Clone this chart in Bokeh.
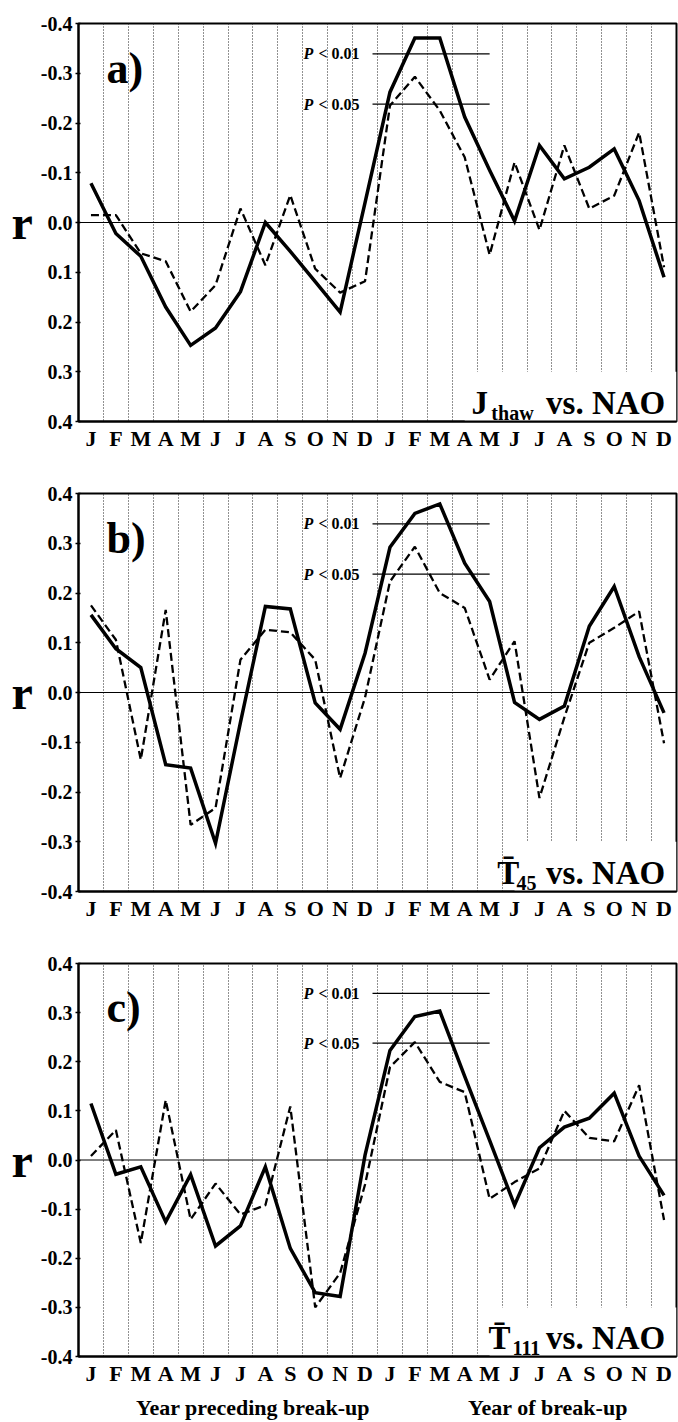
from bokeh.plotting import figure
from bokeh.models import Range1d, FixedTicker, PrintfTickFormatter, Span, Label, BoxAnnotation, LinearAxis
from bokeh.layouts import column
from bokeh.embed import file_html
from bokeh.resources import INLINE

months = ["J", "F", "M", "A", "M", "J", "J", "A", "S", "O", "N", "D",
          "J", "F", "M", "A", "M", "J", "J", "A", "S", "O", "N", "D"]
y_ticks = [-0.4, -0.3, -0.2, -0.1, 0.0, 0.1, 0.2, 0.3, 0.4]
sig_levels = [0.339, 0.238]
sig_texts = ["< 0.01", "< 0.05"]
period_names = ["Year preceding break-up", "Year of break-up"]
period_centers = [6.5, 18.34]

# panel a: J_thaw vs. NAO (y axis inverted)
a_solid = [-0.079, 0.022, 0.068, 0.170, 0.247, 0.212, 0.139, 0.000, 0.058, 0.119, 0.180, -0.040,
           -0.262, -0.371, -0.371, -0.212, -0.105, -0.003, -0.155, -0.088, -0.111, -0.148, -0.044, 0.110]
a_dashed = [-0.015, -0.015, 0.062, 0.078, 0.179, 0.126, -0.028, 0.086, -0.055, 0.093, 0.141, 0.118,
            -0.235, -0.293, -0.225, -0.131, 0.065, -0.121, 0.015, -0.155, -0.028, -0.054, -0.181, 0.090]
# panel b: T45 vs. NAO
b_solid = [0.156, 0.088, 0.050, -0.145, -0.152, -0.303, -0.060, 0.173, 0.168, -0.021, -0.074, 0.079,
           0.292, 0.360, 0.379, 0.260, 0.183, -0.020, -0.054, -0.027, 0.133, 0.213, 0.072, -0.041]
b_dashed = [0.175, 0.106, -0.135, 0.166, -0.266, -0.232, 0.066, 0.126, 0.121, 0.066, -0.172, -0.010,
            0.223, 0.293, 0.200, 0.170, 0.026, 0.103, -0.212, -0.050, 0.100, 0.130, 0.163, -0.102]
# panel c: T111 vs. NAO
c_solid = [0.115, -0.029, -0.014, -0.126, -0.030, -0.175, -0.134, -0.014, -0.180, -0.270, -0.278, 0.010,
           0.223, 0.292, 0.303, 0.170, 0.040, -0.092, 0.025, 0.067, 0.085, 0.136, 0.008, -0.072]
c_dashed = [0.008, 0.061, -0.169, 0.122, -0.121, -0.048, -0.111, -0.092, 0.109, -0.300, -0.230, -0.050,
            0.189, 0.240, 0.159, 0.138, -0.079, -0.045, -0.017, 0.100, 0.045, 0.038, 0.152, -0.122]

FONT = "Liberation Serif"
x = list(range(len(months)))


def make_panel(tag, solid, dashed, inverted, main_txt, sub_txt, main_x, sub_x, box_left,
               height, border_bottom, bottom_text):
    def up(v):
        return -v if inverted else v

    yr = Range1d(start=0.4, end=-0.4) if inverted else Range1d(start=-0.4, end=0.4)
    p = figure(width=678, height=height, x_range=Range1d(-0.5, 23.5), y_range=yr,
               output_backend="svg", toolbar_location=None,
               min_border_left=78, min_border_right=2, min_border_top=23,
               min_border_bottom=border_bottom)
    p.background_fill_color = "white"
    p.border_fill_color = "white"
    p.outline_line_color = "black"
    p.outline_line_width = 2

    # x axis
    p.xaxis.ticker = FixedTicker(ticks=x)
    p.xaxis.major_label_overrides = {i: m for i, m in enumerate(months)}
    p.xaxis.major_tick_line_color = None
    p.xaxis.major_tick_out = 0
    p.xaxis.major_tick_in = 0
    p.xaxis.minor_tick_line_color = None
    p.xaxis.axis_line_width = 2
    p.xaxis.major_label_standoff = 4
    p.xaxis.major_label_text_font = FONT
    p.xaxis.major_label_text_font_style = "bold"
    p.xaxis.major_label_text_font_size = "22px"
    p.xaxis.major_label_text_color = "black"

    # y axis
    p.yaxis.ticker = FixedTicker(ticks=y_ticks)
    p.yaxis.formatter = PrintfTickFormatter(format="%.1f")
    p.yaxis.minor_tick_line_color = None
    p.yaxis.major_tick_out = 3
    p.yaxis.major_tick_in = 2
    p.yaxis.major_tick_line_width = 1.5
    p.yaxis.axis_line_width = 2
    p.yaxis.major_label_standoff = 3
    p.yaxis.major_label_text_font = FONT
    p.yaxis.major_label_text_font_style = "bold"
    p.yaxis.major_label_text_font_size = "20px"
    p.yaxis.major_label_text_color = "black"
    p.yaxis.axis_label = "r"
    p.yaxis.axis_label_orientation = "horizontal"
    p.yaxis.axis_label_standoff = 5
    p.yaxis.axis_label_text_font = FONT
    p.yaxis.axis_label_text_font_style = "bold"
    p.yaxis.axis_label_text_font_size = "48px"
    p.yaxis.axis_label_text_color = "black"

    # grid: dotted month boundaries
    p.ygrid.visible = False
    p.xgrid.ticker = FixedTicker(ticks=[i + 0.5 for i in range(len(months) - 1)])
    p.xgrid.grid_line_color = "#222222"
    p.xgrid.grid_line_dash = "1 2"
    p.xgrid.grid_line_width = 1

    # white area behind the series title
    p.add_layout(BoxAnnotation(left=box_left, top=up(-0.30), bottom=up(-0.4),
                               fill_color="white", fill_alpha=1.0, line_color=None,
                               level="underlay"))

    p.add_layout(Span(location=0, dimension="width", line_color="black", line_width=1.2))

    # significance lines
    p.segment(x0=[11.3] * 2, x1=[16.0] * 2, y0=[up(v) for v in sig_levels],
              y1=[up(v) for v in sig_levels], line_color="black", line_width=1.3)
    for v, t in zip(sig_levels, sig_texts):
        p.add_layout(Label(x=8.53, y=up(v), text="P", text_font=FONT, text_color="black",
                           text_font_style="bold italic", text_font_size="16px",
                           text_align="left", text_baseline="middle"))
        p.add_layout(Label(x=10.78, y=up(v), text=t, text_font=FONT, text_color="black",
                           text_font_style="bold", text_font_size="16px",
                           text_align="right", text_baseline="middle"))

    # series
    p.line(x, dashed, line_color="black", line_width=2.3, line_dash="8 4")
    p.line(x, solid, line_color="black", line_width=3.5, line_join="miter")

    # panel tag
    p.add_layout(Label(x=0.62, y=up(0.31), text=tag, text_font=FONT, text_font_style="bold",
                       text_color="black", text_font_size="44px", text_align="left",
                       text_baseline="alphabetic"))

    # series title
    p.add_layout(Label(x=main_x, y=up(-0.362), text=main_txt, text_font=FONT, text_color="black",
                       text_font_style="bold", text_font_size="33px",
                       text_align="left", text_baseline="alphabetic"))
    p.add_layout(Label(x=sub_x, y=up(-0.383), text=sub_txt, text_font=FONT, text_color="black",
                       text_font_style="bold", text_font_size="20px",
                       text_align="left", text_baseline="alphabetic"))
    p.add_layout(Label(x=23.05, y=up(-0.362), text="vs. NAO", text_font=FONT, text_color="black",
                       text_font_style="bold", text_font_size="33px",
                       text_align="right", text_baseline="alphabetic"))

    if bottom_text:
        ax2 = LinearAxis(ticker=FixedTicker(ticks=period_centers),
                         major_label_overrides={c: t for c, t in zip(period_centers, period_names)},
                         axis_line_color=None, major_tick_line_color=None,
                         minor_tick_line_color=None, major_tick_out=0, major_tick_in=0,
                         major_label_standoff=6, major_label_text_font=FONT,
                         major_label_text_font_style="bold", major_label_text_font_size="22px",
                         major_label_text_color="black")
        p.add_layout(ax2, "below")
    return p


pa = make_panel("a)", a_solid, a_dashed, True, "J", "thaw", 15.27, 16.07, 15.0, 470, 49, False)
pb = make_panel("b)", b_solid, b_dashed, False, "T\u0304", "45", 16.31, 17.08, 17.0, 470, 49, False)
pc = make_panel("c)", c_solid, c_dashed, False, "T\u0304", "111", 15.95, 16.92, 16.0, 482, 61, True)

layout = column(pa, pb, pc)
open("out.html", "w").write(file_html(layout, INLINE))
